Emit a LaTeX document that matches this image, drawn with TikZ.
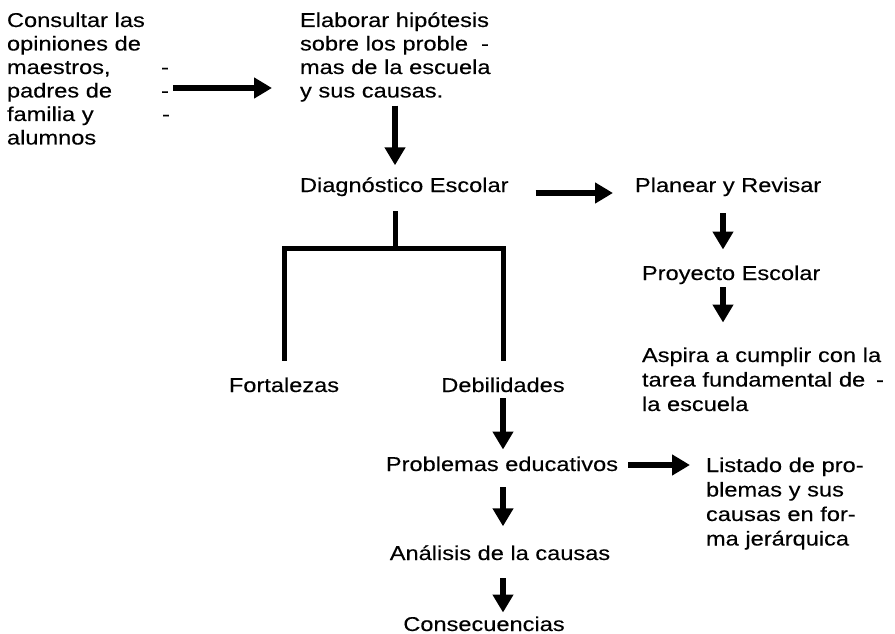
\documentclass[tikz,border=0pt]{standalone}
\usepackage{fontspec}
\setmainfont{Liberation Sans}[FakeStretch=1.18,FakeBold=0.3]
\usetikzlibrary{arrows.meta,calc}
\newcommand{\dashline}[2]{\makebox[#1][l]{#2\hfill-}}
\begin{document}
\begin{tikzpicture}[x=1pt,y=-1pt,
  txt/.style={inner sep=0pt,outer sep=0pt,anchor=base west,align=left,
    font=\fontsize{20}{23.5}\selectfont},
  ctxt/.style={txt,anchor=base,align=center},
  wtxt/.style={txt,font=\fontsize{20}{24.5}\selectfont},
  arr/.style={line width=5.5pt,-{Triangle[length=18pt,width=20pt]}},
  tree/.style={line width=5pt,line join=miter,line cap=rect}]
\useasboundingbox (0,0) rectangle (895,634);
\node[txt,text width=250pt] (cons) at (7,27) {Consultar las\\opiniones de\\\dashline{162pt}{maestros,}\\\dashline{162pt}{padres de}\\\dashline{163pt}{familia y}\\alumnos};
\node[txt,text width=250pt] (elab) at (300,27) {Elaborar hipótesis\\\dashline{189pt}{sobre los proble}\\mas de la escuela\\y sus causas.};
\node[txt] (diag) at (300,192) {Diagnóstico Escolar};
\node[txt] (plan) at (635,192) {Planear y Revisar};
\node[txt] (proy) at (642,280) {Proyecto Escolar};
\node[wtxt,text width=250pt] (asp) at (642,362) {Aspira a cumplir con la\\\dashline{242pt}{tarea fundamental de}\\la escuela};
\node[ctxt] (fort) at (284,392) {Fortalezas};
\node[ctxt] (debi) at (503,392) {Debilidades};
\node[ctxt] (prob) at (502,471) {Problemas educativos};
\node[ctxt] (anal) at (500,560) {Análisis de la causas};
\node[ctxt] (conq) at (484,631) {Consecuencias};
\node[wtxt,text width=180pt] (list) at (706,472) {Listado de pro-\\blemas y sus\\causas en for-\\ma jerárquica};
\coordinate (branch) at (395,248);
% arrows
\draw[arr,shorten <=166pt,shorten >=28pt] (cons.west |- 0,88) -- (elab.west |- 0,88);
\draw[arr,shorten <=4pt,shorten >=12pt] (elab.south -| branch) -- (diag.north -| branch);
\draw[arr,shorten <=27pt,shorten >=22pt] (diag.east |- 0,193) -- (plan.west |- 0,193);
\draw[arr,shorten <=17pt,shorten >=16pt] (plan.south -| 723,0) -- (proy.north -| 723,0);
\draw[arr,shorten <=3pt,shorten >=25pt] (proy.south -| 723,0) -- (asp.north -| 723,0);
\draw[tree,shorten <=17pt] (diag.south -| branch) -- (branch);
\draw[tree] (fort.north |- 0,358) -- (fort.north |- branch) -- (debi.north |- branch) -- (debi.north |- 0,358);
\draw[arr,shorten <=6pt,shorten >=7pt] (debi.south) -- (debi.south |- prob.north);
\draw[arr,shorten <=16pt,shorten >=19pt] (prob.south -| debi.south) -- (debi.south |- anal.north);
\draw[arr,shorten <=18pt,shorten >=4pt] (anal.south -| debi.south) -- (debi.south |- conq.north);
\draw[arr,shorten <=10pt,shorten >=16pt] (prob.east |- 0,465) -- (list.west |- 0,465);
\end{tikzpicture}
\end{document}
